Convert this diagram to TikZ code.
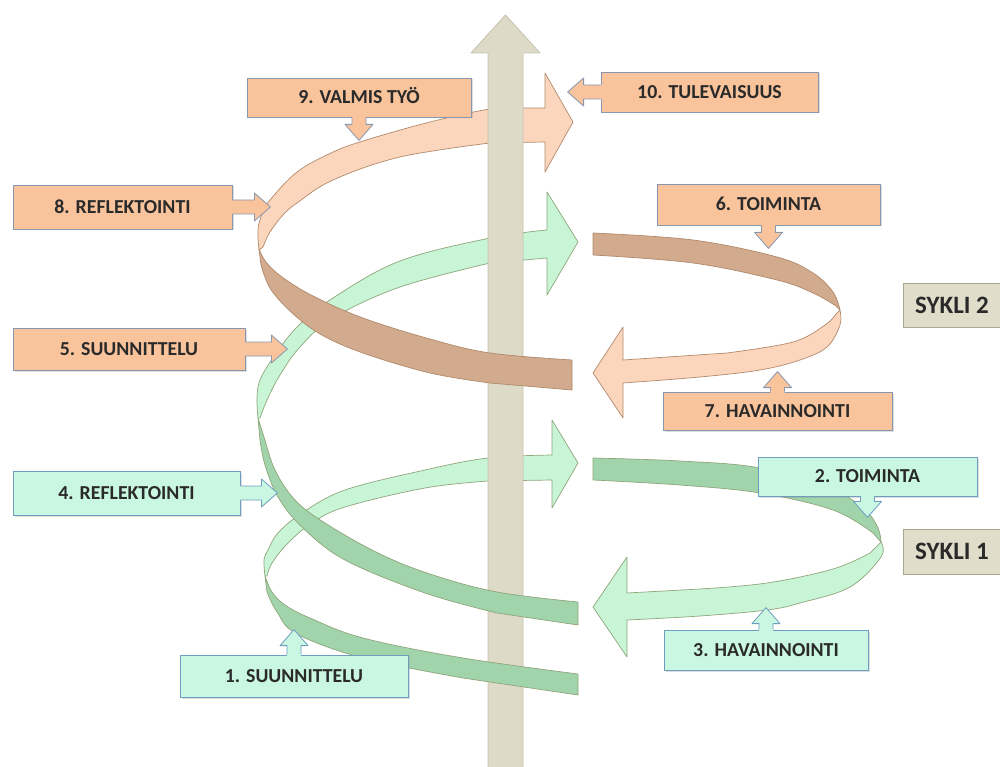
\documentclass[tikz,border=0pt]{standalone}
\usepackage{fontspec}
\setmainfont{Carlito}
\newfontfamily\lblfont{Carlito Bold}
\usetikzlibrary{shadows,calc}
\definecolor{lgreen}{HTML}{C8F5D6}
\definecolor{dgreen}{HTML}{A2D4AB}
\definecolor{gedge}{HTML}{8FA57A}
\definecolor{lpeach}{HTML}{FCD6BC}
\definecolor{dtan}{HTML}{D2AA8E}
\definecolor{pedge}{HTML}{B08A6C}
\definecolor{obox}{HTML}{F9C39C}
\definecolor{gbox}{HTML}{C9F7E1}
\definecolor{boxedge}{HTML}{8797B0}
\definecolor{gboxedge}{HTML}{6E9DC0}
\definecolor{sbox}{HTML}{E1DDCB}
\definecolor{sedge}{HTML}{ABA68F}
\definecolor{shaftc}{HTML}{DDDAC8}
\definecolor{shafte}{HTML}{C6C2AC}
\definecolor{txt}{HTML}{2A2A2A}
\tikzset{
  lgband/.style={fill=lgreen, draw=gedge, line width=0.7pt, line join=round},
  dgband/.style={fill=dgreen, draw=gedge, line width=0.7pt, line join=round},
  lpband/.style={fill=lpeach, draw=pedge, line width=0.7pt, line join=round},
  dtband/.style={fill=dtan, draw=pedge, line width=0.7pt, line join=round},
  labelbox/.style={rectangle, line width=0.8pt, text=txt, font=\lblfont\fontsize{19.8}{24}\selectfont,
    inner sep=0pt, text height=12.8pt, text depth=0pt,
    drop shadow={shadow xshift=1.5pt, shadow yshift=-1.5pt, opacity=0.25}},
  obx/.style={labelbox, fill=obox, draw=boxedge},
  gbx/.style={labelbox, fill=gbox, draw=gboxedge},
  sbx/.style={rectangle, fill=sbox, draw=sedge, line width=0.8pt, text=txt,
    font=\lblfont\fontsize{25}{30}\selectfont, inner sep=0pt, text height=16.1pt, text depth=0pt},
  pics/carrow/.style n args={3}{code={
    \fill[#2] (-1.5,-7) -- (#1-16,-7) -- (#1-16,-14) -- (#1,0) -- (#1-16,14) -- (#1-16,7) -- (-1.5,7) -- cycle;
    \draw[#3, line width=0.8pt, line join=round] (0,-7) -- (#1-16,-7) -- (#1-16,-14) -- (#1,0) -- (#1-16,14) -- (#1-16,7) -- (0,7);
  }},
}
\begin{document}
\begin{tikzpicture}[x=1pt, y=-1pt]
\useasboundingbox (0,0) rectangle (1000,767);

% ---------- light (front) bands with arrow heads ----------
% cycle 1, lower front band
\path[lgband] plot[smooth, tension=0.6] coordinates {(265,576) (264,560) (268,550) (278,533) (302,513) (345,490) (425,470) (488,458) (552,455)}
  -- (552,420) -- (578,463) -- (552,508) -- (552,480)
  -- plot[smooth, tension=0.6] coordinates {(488,481) (425,488) (345,507) (312,523) (288,543) (272,563) (267,576)} -- cycle;
% cycle 1, upper front band
\path[lgband] plot[smooth, tension=0.6] coordinates {(258,418) (257,398) (260,380) (273,358) (297,327) (333,298) (400,261) (490,238) (547,230)}
  -- (547,192) -- (578,242) -- (547,295) -- (547,258)
  -- plot[smooth, tension=0.6] coordinates {(490,263) (400,287) (333,318) (300,347) (280,375) (267,400) (260,418)} -- cycle;
% cycle 2, top front band
\path[lpband] plot[smooth, tension=0.6] coordinates {(259,250) (258,230) (262,214) (270,200) (297,172) (331,153) (363,141) (430,122) (490,109) (520,108)}
  -- (545,108) -- (545,73) -- (573,122) -- (545,172) -- (545,142)
  -- plot[smooth, tension=0.6] coordinates {(490,143) (400,157) (333,180) (297,203) (283,215) (270,232) (263,247)} -- cycle;
% right loops, front parts
\path[lgband] plot[smooth, tension=0.6] coordinates {(881,542) (881,557) (850,587) (800,603) (767,610) (700,616) (627,620)}
  -- (627,657) -- (593,607) -- (627,557) -- (627,593)
  -- plot[smooth, tension=0.6] coordinates {(700,589) (767,583) (833,569) (870,553)} -- cycle;
\path[lpband] plot[smooth, tension=0.6] coordinates {(840,310) (840,325) (827,347) (800,360) (760,370) (700,377) (623,383)}
  -- (623,418) -- (593,373) -- (623,327) -- (623,360)
  -- plot[smooth, tension=0.6] coordinates {(727,353) (793,342) (825,325) (836,314)} -- cycle;

% ---------- central shaft ----------
\filldraw[fill=shaftc, draw=shafte, line width=0.8pt, line join=round]
  (488,770) -- (488,53) -- (471,53) -- (505.5,15) -- (540,53) -- (523,53) -- (523,770) -- cycle;

% ---------- dark (back) bands ----------
\path[dgband] plot[smooth, tension=0.6] coordinates {(265,576) (272,592) (285,605) (310,618) (363,638) (463,658) (578,674)}
  -- (578,695)
  -- plot[smooth, tension=0.6] coordinates {(463,678) (363,658) (297,634) (277,612) (267,592)} -- cycle;
\path[dgband] plot[smooth, tension=0.6] coordinates {(258,418) (264,437) (275,470) (295,500) (325,523) (378,553) (430,574) (497,592) (578,602)}
  -- (578,625)
  -- plot[smooth, tension=0.6] coordinates {(497,613) (425,593) (345,560) (302,527) (278,497) (265,465) (260,440)} -- cycle;
\path[dtband] plot[smooth, tension=0.6] coordinates {(259,249) (266,262) (282,277) (313,296) (363,318) (430,339) (490,353) (572,360)}
  -- (572,390)
  -- plot[smooth, tension=0.6] coordinates {(490,383) (430,373) (363,353) (320,334) (290,311) (270,288) (261,265)} -- cycle;
\path[dgband] plot[smooth, tension=0.6] coordinates {(593,458) (680,461) (760,468) (833,490) (865,510) (878,528) (881,542)}
  -- plot[smooth, tension=0.6] coordinates {(873,533) (833,510) (760,493) (680,485) (593,480)} -- cycle;
\path[dtband] plot[smooth, tension=0.6] coordinates {(593,233) (693,240) (777,257) (813,273) (833,292) (840,310)}
  -- plot[smooth, tension=0.6] coordinates {(836,306) (813,293) (777,280) (693,263) (593,255)} -- cycle;

% ---------- labels ----------
\node[obx, minimum width=224pt, minimum height=39pt] (b9) at (359,97.5) {9. VALMIS TYÖ};
\node[obx, minimum width=219pt, minimum height=44pt] (b8) at (122.5,207) {8. REFLEKTOINTI};
\node[obx, minimum width=232pt, minimum height=42pt] (b5) at (129,349) {5. SUUNNITTELU};
\node[gbx, minimum width=227pt, minimum height=44pt] (b4) at (126.5,493) {4. REFLEKTOINTI};
\node[gbx, minimum width=228pt, minimum height=42pt] (b1) at (294,676) {1. SUUNNITTELU};
\node[obx, minimum width=217pt, minimum height=40pt] (b10) at (709.5,92) {10. TULEVAISUUS};
\node[obx, minimum width=223pt, minimum height=41pt] (b6) at (768.5,204.5) {6. TOIMINTA};
\node[obx, minimum width=229pt, minimum height=38pt] (b7) at (777.5,411) {7. HAVAINNOINTI};
\node[gbx, minimum width=219pt, minimum height=39pt] (b2) at (867.5,476.5) {2. TOIMINTA};
\node[gbx, minimum width=204pt, minimum height=40pt] (b3) at (766,650) {3. HAVAINNOINTI};
\node[sbx, minimum width=98pt, minimum height=44pt] (s2) at (952,305) {SYKLI 2};
\node[sbx, minimum width=98pt, minimum height=45pt] (s1) at (952,551.5) {SYKLI 1};

\pic[rotate=-90] at (b9.south) {carrow={23}{obox}{boxedge}};
\pic at (b8.east) {carrow={38}{obox}{boxedge}};
\pic at (b5.east) {carrow={42}{obox}{boxedge}};
\pic at (b4.east) {carrow={37}{gbox}{gboxedge}};
\pic[rotate=90] at (b1.north) {carrow={25}{gbox}{gboxedge}};
\pic[rotate=180] at (b10.west) {carrow={33}{obox}{boxedge}};
\pic[rotate=-90] at (b6.south) {carrow={23}{obox}{boxedge}};
\pic[rotate=90] at (b7.north) {carrow={20}{obox}{boxedge}};
\pic[rotate=-90] at (b2.south) {carrow={21}{gbox}{gboxedge}};
\pic[rotate=90] at (b3.north) {carrow={22}{gbox}{gboxedge}};
\end{tikzpicture}
\end{document}
